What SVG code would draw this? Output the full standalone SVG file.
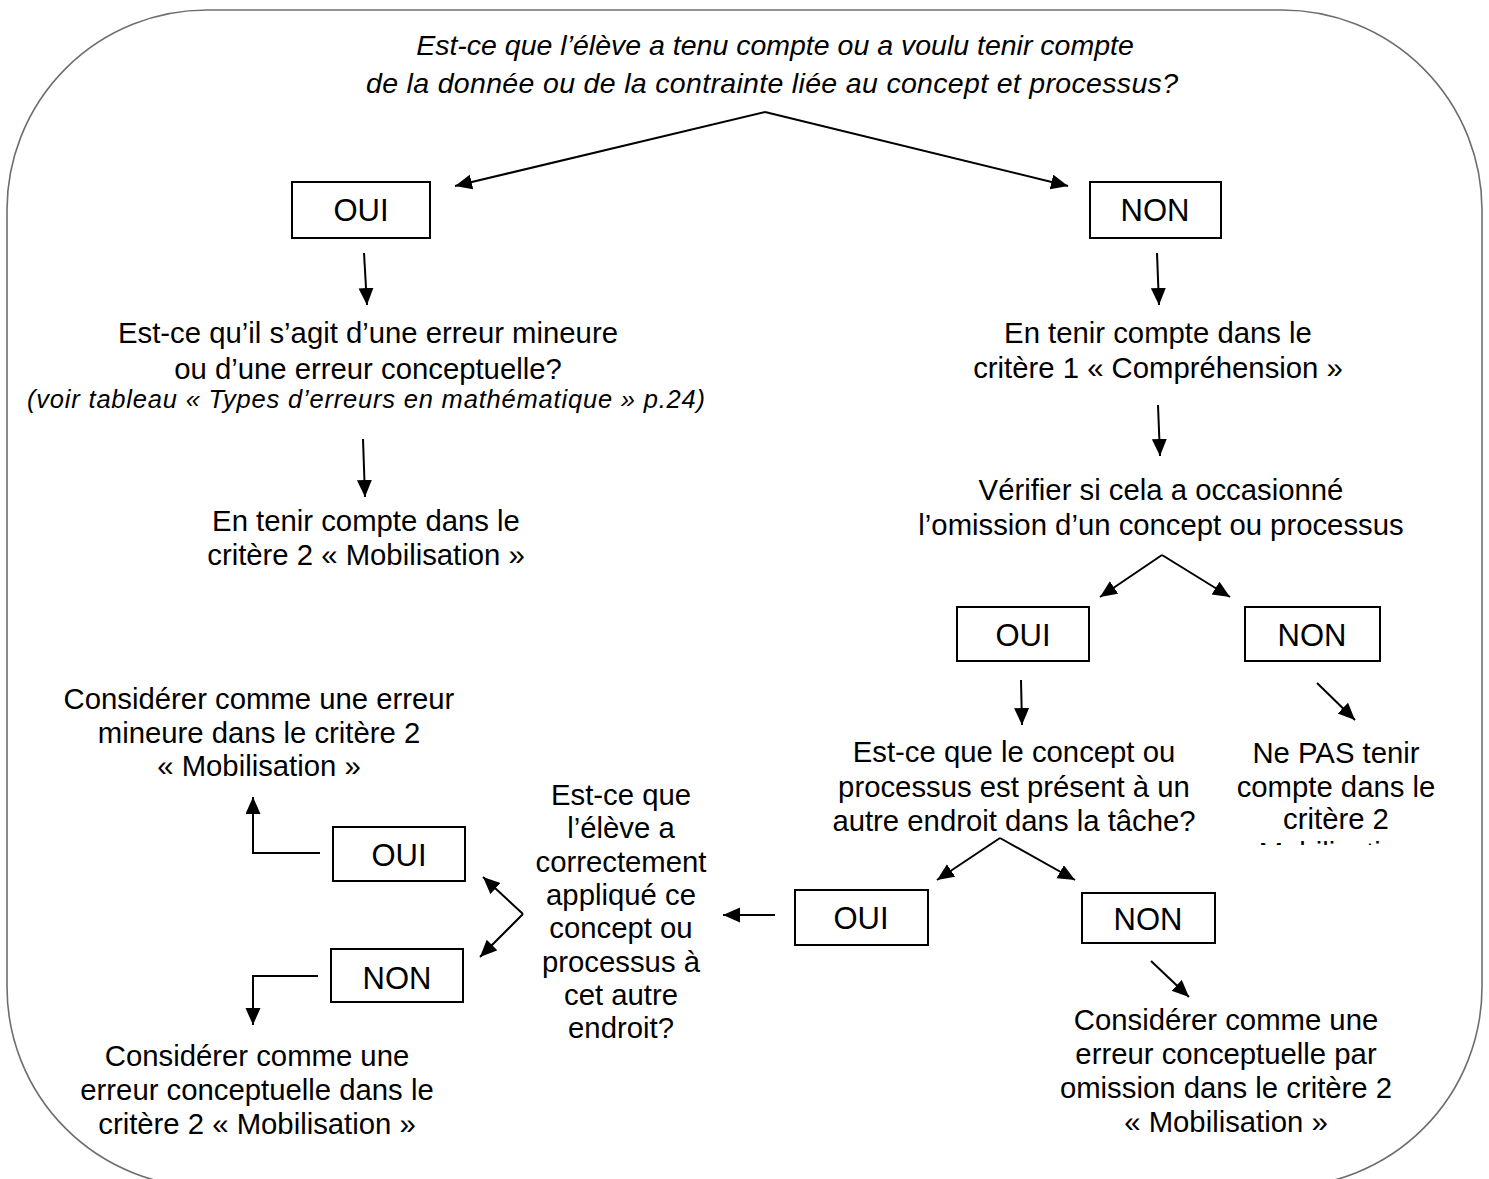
<svg xmlns="http://www.w3.org/2000/svg" width="1489" height="1179" viewBox="0 0 1489 1179">
<style>
text{font-family:"Liberation Sans",Arial,sans-serif;fill:#000;text-anchor:middle}
.t{font-size:29.3px}
.q{font-size:28.5px;font-style:italic}
.b{font-size:31px}
.i{font-style:italic}
.box{fill:#fff;stroke:#000;stroke-width:2}
.c{fill:none;stroke:#000;stroke-width:2}
.a{marker-end:url(#ah)}
</style>
<defs>
<marker id="ah" markerUnits="userSpaceOnUse" markerWidth="18" markerHeight="16" refX="17" refY="7.5" orient="auto">
<path d="M0,0 L17,7.5 L0,15 z" fill="#000"/>
</marker>
<clipPath id="cut"><rect x="1200" y="700" width="280" height="145"/></clipPath>
</defs>
<rect x="7" y="10" width="1475" height="1177" rx="200" ry="200" fill="#fff" stroke="#6e6e6e" stroke-width="1.6"/>

<g id="connectors">
<path class="c a" d="M765,112 L455,186"/>
<path class="c a" d="M765,112 L1068,186"/>
<path class="c a" d="M364,253 L367,305"/>
<path class="c a" d="M1157,253 L1159,305"/>
<path class="c a" d="M363,439 L365,497"/>
<path class="c a" d="M1158,405 L1160,456"/>
<path class="c a" d="M1162,555 L1100,597"/>
<path class="c a" d="M1162,555 L1230,597"/>
<path class="c a" d="M1021,680 L1022,725"/>
<path class="c a" d="M1317,683 L1355,720"/>
<path class="c a" d="M1000,838 L937,880"/>
<path class="c a" d="M1000,838 L1075,880"/>
<path class="c a" d="M775,915 L723,915"/>
<path class="c a" d="M1151,961 L1189,997"/>
<path class="c a" d="M523,914 L483,877"/>
<path class="c a" d="M523,914 L480,957"/>
<path class="c a" d="M320,853 L253,853 L253,797"/>
<path class="c a" d="M318,976 L253,976 L253,1025"/>
</g>

<g id="question-top">
<text class="q" x="775" y="55">Est-ce que l’élève a tenu compte ou a voulu tenir compte</text>
<text class="q" x="772" y="93" textLength="812" lengthAdjust="spacing">de la donnée ou de la contrainte liée au concept et processus?</text>
</g>

<g id="oui-1"><rect class="box" x="292" y="182" width="138" height="56"/><text class="b" x="361" y="221">OUI</text></g>
<g id="non-1"><rect class="box" x="1090" y="182" width="131" height="56"/><text class="b" x="1155" y="221">NON</text></g>

<g id="question-erreur">
<text class="t" x="368" y="343">Est-ce qu’il s’agit d’une erreur mineure</text>
<text class="t" x="368" y="379">ou d’une erreur conceptuelle?</text>
<text class="i" x="366" y="408" font-size="25.5" textLength="678" lengthAdjust="spacing">(voir tableau « Types d’erreurs en mathématique » p.24)</text>
</g>

<g id="mobilisation-1">
<text class="t" x="366" y="531">En tenir compte dans le</text>
<text class="t" x="366" y="565">critère 2 « Mobilisation »</text>
</g>

<g id="comprehension">
<text class="t" x="1158" y="343">En tenir compte dans le</text>
<text class="t" x="1158" y="378">critère 1 « Compréhension »</text>
</g>

<g id="verifier">
<text class="t" x="1161" y="500">Vérifier si cela a occasionné</text>
<text class="t" x="1161" y="535">l’omission d’un concept ou processus</text>
</g>

<g id="oui-2"><rect class="box" x="957" y="607" width="132" height="54"/><text class="b" x="1023" y="646">OUI</text></g>
<g id="non-2"><rect class="box" x="1245" y="607" width="135" height="54"/><text class="b" x="1312" y="646">NON</text></g>

<g id="question-present">
<text class="t" x="1014" y="762">Est-ce que le concept ou</text>
<text class="t" x="1014" y="797">processus est présent à un</text>
<text class="t" x="1014" y="831">autre endroit dans la tâche?</text>
</g>

<g id="ne-pas-tenir">
<text class="t" x="1336" y="763">Ne PAS tenir</text>
<text class="t" x="1336" y="797">compte dans le</text>
<text class="t" x="1336" y="829">critère 2</text>
<text class="t" x="1336" y="863" clip-path="url(#cut)">« Mobilisation »</text>
</g>

<g id="oui-3"><rect class="box" x="795" y="890" width="133" height="55"/><text class="b" x="861" y="929">OUI</text></g>
<g id="non-3"><rect class="box" x="1082" y="893" width="133" height="50"/><text class="b" x="1148" y="930">NON</text></g>

<g id="omission">
<text class="t" x="1226" y="1030">Considérer comme une</text>
<text class="t" x="1226" y="1064">erreur conceptuelle par</text>
<text class="t" x="1226" y="1098">omission dans le critère 2</text>
<text class="t" x="1226" y="1132">« Mobilisation »</text>
</g>

<g id="question-applique">
<text class="t" x="621" y="805">Est-ce que</text>
<text class="t" x="621" y="838">l’élève a</text>
<text class="t" x="621" y="872">correctement</text>
<text class="t" x="621" y="905">appliqué ce</text>
<text class="t" x="621" y="938">concept ou</text>
<text class="t" x="621" y="972">processus à</text>
<text class="t" x="621" y="1005">cet autre</text>
<text class="t" x="621" y="1038">endroit?</text>
</g>

<g id="oui-4"><rect class="box" x="333" y="827" width="132" height="54"/><text class="b" x="399" y="866">OUI</text></g>
<g id="non-4"><rect class="box" x="331" y="949" width="132" height="53"/><text class="b" x="397" y="989">NON</text></g>

<g id="mineure">
<text class="t" x="259" y="709">Considérer comme une erreur</text>
<text class="t" x="259" y="743">mineure dans le critère 2</text>
<text class="t" x="259" y="776">« Mobilisation »</text>
</g>

<g id="conceptuelle">
<text class="t" x="257" y="1066">Considérer comme une</text>
<text class="t" x="257" y="1100">erreur conceptuelle dans le</text>
<text class="t" x="257" y="1134">critère 2 « Mobilisation »</text>
</g>
</svg>
